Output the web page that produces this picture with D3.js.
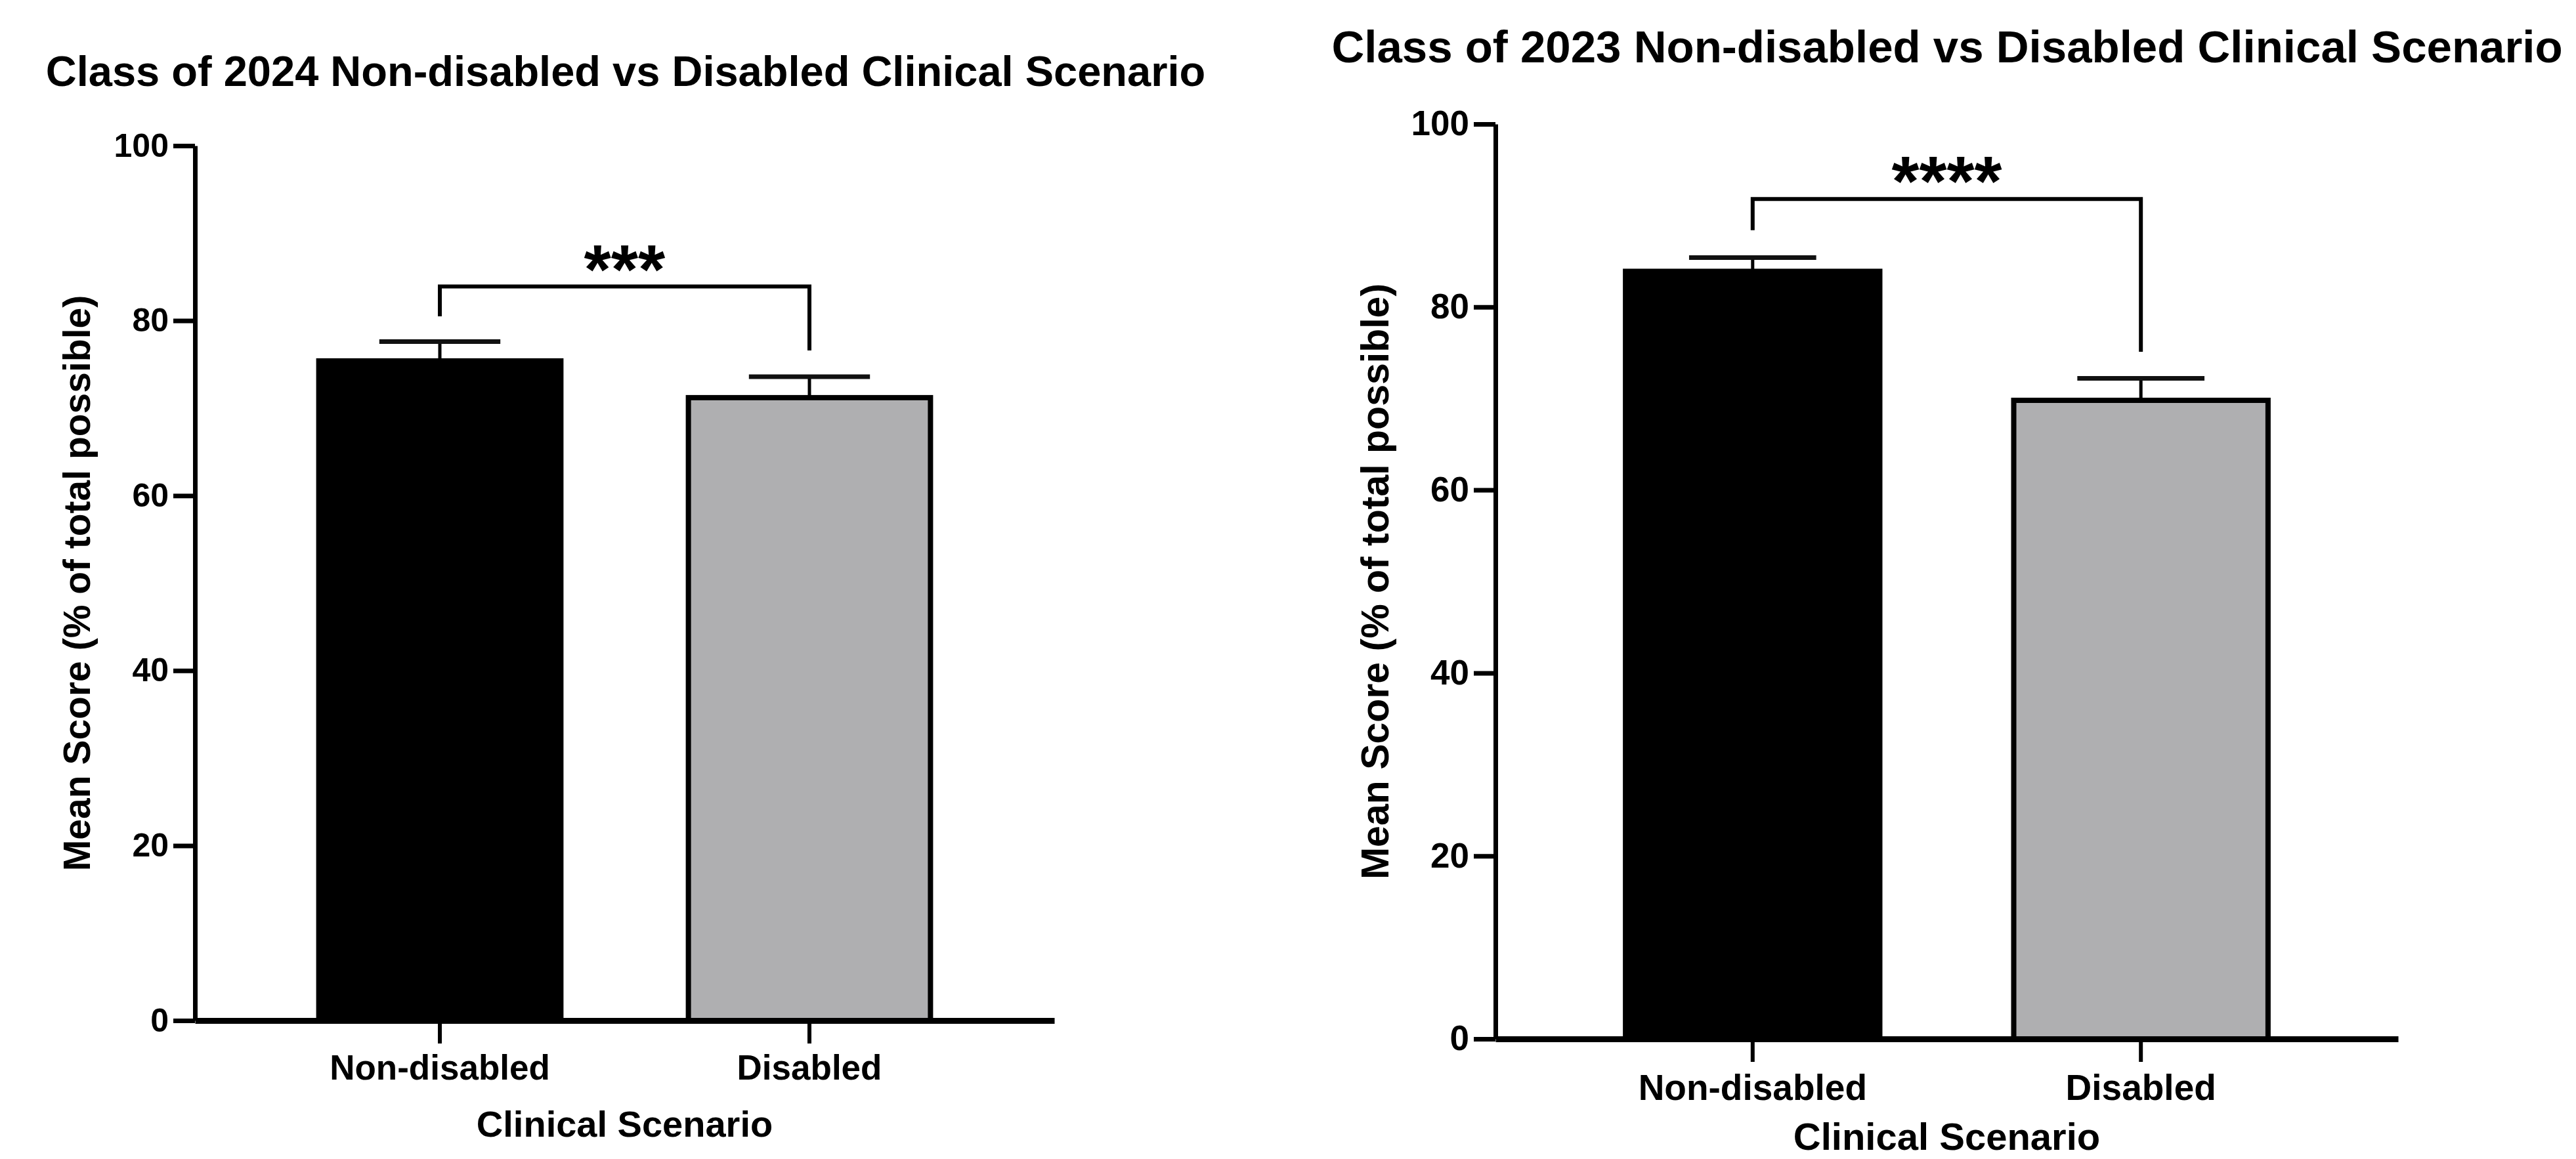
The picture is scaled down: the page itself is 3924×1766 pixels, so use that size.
<!DOCTYPE html>
<html>
<head>
<meta charset="utf-8">
<script src="https://cdn.jsdelivr.net/npm/d3@7"></script>
<style>
    body { margin: 0; background: #fff; }
    svg { display: block; font-family: 'Liberation Sans', Arial, sans-serif; font-weight: bold; }
</style>
</head>
<body>
<script>
// chart values
const categories = ['Non-disabled', 'Disabled'];
const yTicks = [0, 20, 40, 60, 80, 100];
const yLabel = 'Mean Score (% of total possible)';
const xLabel = 'Clinical Scenario';
const barColors = ['#000000', '#afafb1'];

const title2024 = 'Class of 2024 Non-disabled vs Disabled Clinical Scenario';
const means2024 = [75.4, 71.2];
const errors2024 = [2.2, 2.4];
const bracket2024 = [83.9, 80.5, 76.6];   // top, left leg end, right leg end
const stars2024 = '***';

const title2023 = 'Class of 2023 Non-disabled vs Disabled Clinical Scenario';
const means2023 = [83.9, 69.8];
const errors2023 = [1.5, 2.4];
const bracket2023 = [91.8, 88.4, 75.1];
const stars2023 = '****';

const width = 3924;
const height = 1766;

const svg = d3.select('body').append('svg')
    .attr('width', width)
    .attr('height', height);

drawPanel({
    title: title2024, means: means2024, errors: errors2024, bracket: bracket2024, stars: stars2024,
    left: 297, right: 1606, top: 222, bottom: 1555,
    titleX: 953, titleY: 131, titleSize: 65,
    tickFont: 50, catFont: 53, catPad: 17,
    xTitleY: 1732, xTitleSize: 56,
    yTitleX: 137, yTitleSize: 57,
    starSize: 106
});

drawPanel({
    title: title2023, means: means2023, errors: errors2023, bracket: bracket2023, stars: stars2023,
    left: 2278, right: 3653, top: 189, bottom: 1583,
    titleX: 2966, titleY: 95, titleSize: 69,
    tickFont: 53, catFont: 55, catPad: 19,
    xTitleY: 1752, xTitleSize: 58,
    yTitleX: 2115, yTitleSize: 59,
    starSize: 108
});

function drawPanel(p)
{
    const g = svg.append('g');

    const x = d3.scaleBand()
        .domain(categories)
        .range([p.left, p.right])
        .paddingInner(0.345)
        .paddingOuter(0.335);

    const y = d3.scaleLinear()
        .domain([0, 100])
        .range([p.bottom, p.top]);

    const rows = categories.map((c, i) => ({ cat: c, mean: p.means[i], err: p.errors[i], color: barColors[i] }));

    // bars
    g.selectAll('.bar')
        .data(rows)
        .enter()
        .append('rect')
        .attr('class', 'bar')
        .attr('x', d => x(d.cat))
        .attr('y', d => y(d.mean))
        .attr('width', x.bandwidth())
        .attr('height', d => y(0) - y(d.mean))
        .attr('fill', d => d.color)
        .attr('stroke', '#000')
        .attr('stroke-width', 8);

    // error bars (upper only)
    const cx = d => x(d.cat) + x.bandwidth() / 2;
    g.selectAll('.err-stem')
        .data(rows)
        .enter()
        .append('line')
        .attr('x1', cx)
        .attr('x2', cx)
        .attr('y1', d => y(d.mean))
        .attr('y2', d => y(d.mean + d.err))
        .attr('stroke', '#000')
        .attr('stroke-width', 5);

    g.selectAll('.err-cap')
        .data(rows)
        .enter()
        .append('line')
        .attr('x1', d => cx(d) - x.bandwidth() / 4)
        .attr('x2', d => cx(d) + x.bandwidth() / 4)
        .attr('y1', d => y(d.mean + d.err))
        .attr('y2', d => y(d.mean + d.err))
        .attr('stroke', '#111')
        .attr('stroke-width', 7);

    // significance bracket
    const bx0 = cx(rows[0]);
    const bx1 = cx(rows[1]);
    const [bTop, bLeft, bRight] = p.bracket;
    g.append('path')
        .attr('d', `M${bx0},${y(bLeft)} V${y(bTop)} H${bx1} V${y(bRight)}`)
        .attr('fill', 'none')
        .attr('stroke', '#000')
        .attr('stroke-width', 6);

    g.append('text')
        .attr('x', (bx0 + bx1) / 2)
        .attr('y', y(bTop) + 10)
        .attr('text-anchor', 'middle')
        .attr('font-size', p.starSize)
        .text(p.stars);

    // x-axis
    g.append('g')
        .attr('transform', `translate(0, ${y(0)})`)
        .call(d3.axisBottom(x).tickSize(35).tickSizeOuter(0).tickPadding(p.catPad))
        .call(a => a.select('.domain').attr('stroke', '#000').attr('stroke-width', 9))
        .call(a => a.selectAll('.tick line').attr('stroke', '#000').attr('stroke-width', 6))
        .call(a => a.selectAll('text')
            .attr('fill', '#000')
            .attr('font-family', "'Liberation Sans', Arial, sans-serif")
            .attr('font-weight', 'bold')
            .attr('font-size', p.catFont));

    // y-axis
    g.append('g')
        .attr('transform', `translate(${p.left}, 0)`)
        .call(d3.axisLeft(y).tickValues(yTicks).tickSize(33).tickSizeOuter(0).tickPadding(7))
        .call(a => a.select('.domain').attr('stroke', '#000').attr('stroke-width', 7))
        .call(a => a.selectAll('.tick line').attr('stroke', '#000').attr('stroke-width', 7))
        .call(a => a.selectAll('text')
            .attr('fill', '#000')
            .attr('font-family', "'Liberation Sans', Arial, sans-serif")
            .attr('font-weight', 'bold')
            .attr('font-size', p.tickFont));

    // titles
    g.append('text')
        .attr('x', p.titleX)
        .attr('y', p.titleY)
        .attr('text-anchor', 'middle')
        .attr('font-size', p.titleSize)
        .text(p.title);

    g.append('text')
        .attr('x', (p.left + p.right) / 2)
        .attr('y', p.xTitleY)
        .attr('text-anchor', 'middle')
        .attr('font-size', p.xTitleSize)
        .text(xLabel);

    g.append('text')
        .attr('transform', `translate(${p.yTitleX}, ${(p.top + p.bottom) / 2}) rotate(-90)`)
        .attr('text-anchor', 'middle')
        .attr('font-size', p.yTitleSize)
        .text(yLabel);
}
</script>
</body>
</html>
